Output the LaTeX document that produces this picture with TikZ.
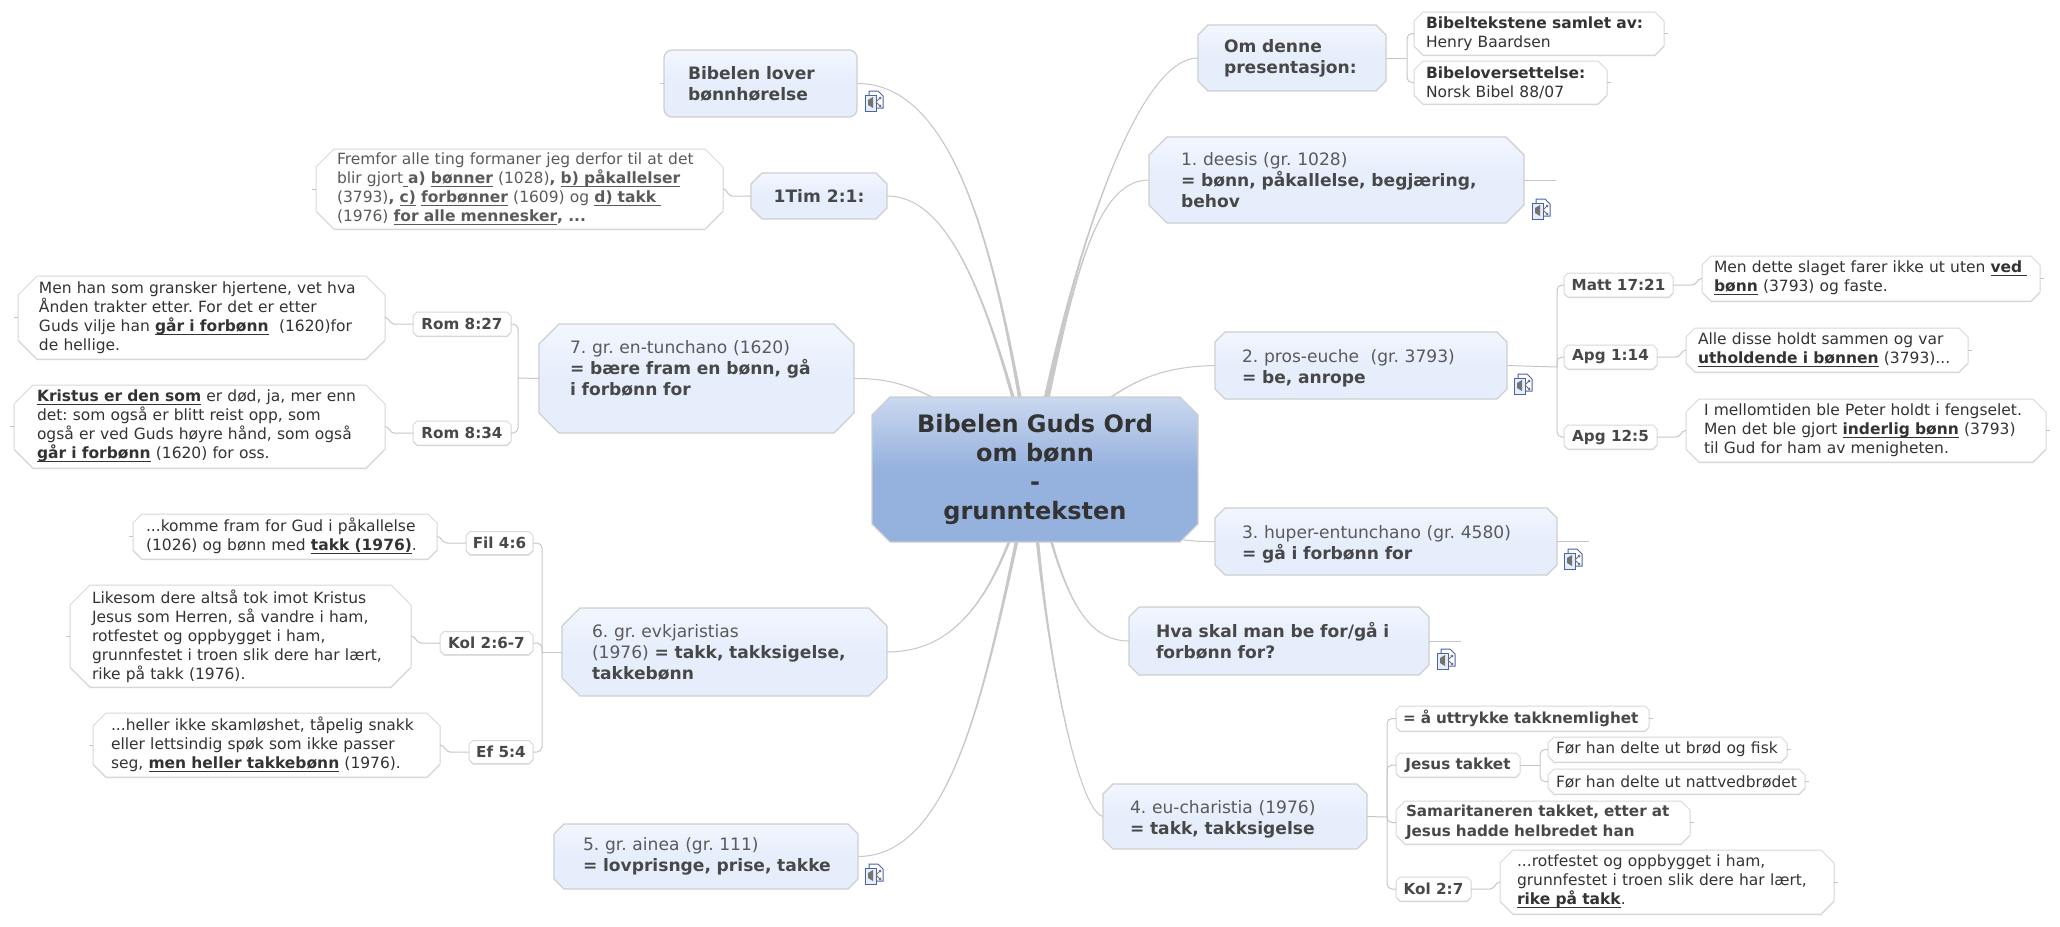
\documentclass[tikz,border=0pt]{standalone}
\usepackage{fontspec}
\setmainfont{DejaVu Sans}
\usepackage{xcolor}
\usetikzlibrary{shadows,backgrounds}
\frenchspacing
\definecolor{hubtop}{HTML}{CAD8EF}
\definecolor{hubmid}{HTML}{95B1DD}
\definecolor{topictop}{HTML}{F2F6FE}
\definecolor{topicmid}{HTML}{E6EEFC}
\definecolor{rimgray}{HTML}{CCCED2}
\definecolor{twiggray}{HTML}{C6C6C6}
\definecolor{boughgray}{HTML}{C8C8C8}
\definecolor{inkdark}{HTML}{333333}
\definecolor{inkmid}{HTML}{484848}
\definecolor{inkpale}{HTML}{5A5A5A}
\definecolor{iconblue}{HTML}{4A62B0}
\pgfdeclareverticalshading{hubshade}{100bp}{color(0bp)=(hubmid);color(50bp)=(hubmid);color(75bp)=(hubtop);color(100bp)=(hubtop)}
\newcommand{\bu}[1]{\textbf{\underline{\smash{#1}}}}
\newcommand{\reg}[1]{{\mdseries\color{inkpale}#1}}
% tapered branch, thin at the topic and wider at the hub
\newcommand{\bough}[3]{\filldraw[bough] (#1) .. controls (#2) and (#3) .. ([xshift=-1pt]hub) -- ([xshift=1pt]hub) .. controls (#3) and (#2) .. (#1) -- cycle;}
% box with cut corners, exact size
\tikzset{octacut/.initial=5pt}
\newdimen\octaL \newdimen\octaR \newdimen\octaT \newdimen\octaB \newdimen\octaC
\makeatletter
\pgfdeclareshape{octa}{
  \inheritsavedanchors[from=rectangle]
  \inheritanchorborder[from=rectangle]
  \inheritanchor[from=rectangle]{center}
  \inheritanchor[from=rectangle]{north}
  \inheritanchor[from=rectangle]{south}
  \inheritanchor[from=rectangle]{east}
  \inheritanchor[from=rectangle]{west}
  \backgroundpath{
    \southwest \octaL=\pgf@x \octaB=\pgf@y
    \northeast \octaR=\pgf@x \octaT=\pgf@y
    \pgfmathsetlength\octaC{\pgfkeysvalueof{/tikz/octacut}}
    \pgfpathmoveto{\pgfpoint{\octaL+\octaC}{\octaT}}
    \pgfpathlineto{\pgfpoint{\octaR-\octaC}{\octaT}}
    \pgfpathlineto{\pgfpoint{\octaR}{\octaT-\octaC}}
    \pgfpathlineto{\pgfpoint{\octaR}{\octaB+\octaC}}
    \pgfpathlineto{\pgfpoint{\octaR-\octaC}{\octaB}}
    \pgfpathlineto{\pgfpoint{\octaL+\octaC}{\octaB}}
    \pgfpathlineto{\pgfpoint{\octaL}{\octaB+\octaC}}
    \pgfpathlineto{\pgfpoint{\octaL}{\octaT-\octaC}}
    \pgfpathclose
  }
}
\makeatother

\begin{document}
\begin{tikzpicture}[x=0.5pt, y=-0.5pt, inner sep=0pt, outer sep=0pt,
  sz/.style 2 args={minimum width=#1*0.5pt, minimum height=#2*0.5pt},
  pad/.style n args={3}{sz={#1}{#2}, text width=(#1-2*#3)*0.5pt, align=left},
  cham/.style={shape=octa, octacut=#1*0.5pt},
  low/.style={text height=9pt},
  topic/.style={draw=rimgray, line width=0.6pt, top color=topictop, bottom color=topicmid, middle color=topicmid,
    text=inkmid, font=\fontsize{8.55}{10.5}\selectfont\bfseries, cham=10},
  leaf/.style={draw=rimgray!80, line width=0.5pt, fill=white, text=inkdark, font=\fontsize{7.75}{9.5}\selectfont, cham=9,
    drop shadow={shadow xshift=0pt, shadow yshift=-0.5pt, fill=black!18, opacity=1}},
  tag/.style={leaf, text=inkmid, font=\fontsize{7.6}{10}\selectfont\bfseries, cham=4, align=center},
  twig/.style={draw=twiggray, line width=0.5pt},
  bracket/.style={twig, rounded corners=2.5pt},
  bough/.style={fill=boughgray, draw=boughgray, line width=0.5pt},
  mapicon/.pic={
    \draw[iconblue, line width=0.5pt, fill=white] (5,0) -- (14,0) -- (19,5) -- (19,17) -- (5,17) -- cycle;
    \draw[iconblue, line width=0.5pt, fill=topicmid] (1,4) rectangle (12,20);
    \fill[black!55] (4,9) -- (9,6) -- (9,17) -- (4,14) -- cycle;
    \draw[black!55, line width=0.5pt] (12,11) -- (16,7) (12,11) -- (16,15);
    \fill[black!55] (16,7) circle (1.5) (16,15) circle (1.5);
  }]
\useasboundingbox (0,0) rectangle (2060,926);
% root
\node[draw=rimgray, line width=0.6pt, shading=hubshade, cham=18, sz={326}{145}, align=center, text=inkdark,
  font=\fontsize{12}{14.5}\selectfont\bfseries] (root) at (1035,469.5) {Bibelen Guds Ord\\om bønn\\-\\grunnteksten};
\coordinate (hub) at (1032,470);
% topics
\node[topic, rectangle, rounded corners=4pt, pad={193}{67}{24}] (lover) at (760.5,83.5) {Bibelen lover\\bønnhørelse};
\node[topic, sz={136}{46}, cham=11, align=center] (tim) at (819,196) {1Tim 2:1:};
\node[topic, pad={188}{66}{26}] (om) at (1292,58) {Om denne\\presentasjon:};
\node[topic, pad={375}{86}{32}, cham=18] (deesis) at (1336.5,180) {\reg{1. deesis (gr. 1028)}\\= bønn, påkallelse, begjæring,\\behov};
\node[topic, pad={292}{67}{27}, low] (pros) at (1361,365.5) {\reg{2. pros-euche\ \ (gr. 3793)}\\= be, anrope};
\node[topic, pad={342}{67}{27}, low] (huper) at (1386,541.5) {\reg{3. huper-entunchano (gr. 4580)}\\= gå i forbønn for};
\node[topic, pad={300}{68}{27}] (hva) at (1279,641) {Hva skal man be for/gå i\\forbønn for?};
\node[topic, pad={264}{65}{27}, low] (eucha) at (1235,816.5) {\reg{4. eu-charistia (1976)}\\= takk, takksigelse};
\node[topic, pad={315}{109}{31}, cham=20] (tunch) at (696.5,378.5) {\reg{7. gr. en-tunchano (1620)}\\= bære fram en bønn, gå\\i forbønn for\\~};
\node[topic, pad={325}{88}{30}, cham=18] (evk) at (724.5,652) {\reg{6. gr. evkjaristias}\\\reg{(1976)} = takk, takksigelse,\\takkebønn};
\node[topic, pad={304}{65}{29}] (ainea) at (706,856.5) {\reg{5. gr. ainea (gr. 111)}\\\mbox{= lovprisnge, prise, takke}};
% verse tags
\node[tag, sz={109}{24}] (matt) at (1618.5,285) {Matt 17:21};
\node[tag, sz={93}{24}] (apga) at (1610.5,357) {Apg 1:14};
\node[tag, sz={93}{24}] (apgb) at (1610.5,437) {Apg 12:5};
\node[tag, sz={98}{24}] (roma) at (462,324) {Rom 8:27};
\node[tag, sz={98}{24}] (romb) at (462,433) {Rom 8:34};
\node[tag, sz={67}{23}] (fil) at (499.5,543) {Fil 4:6};
\node[tag, sz={93}{23}] (kola) at (486.5,643) {Kol 2:6-7};
\node[tag, sz={64}{23}] (ef) at (501,752) {Ef 5:4};
\node[tag, sz={124}{24}] (jesus) at (1458,765) {Jesus takket};
\node[tag, sz={75}{24}] (kolb) at (1433.5,889) {Kol 2:7};
\node[tag, pad={253}{25}{7}] (uttr) at (1522.5,718.5) {= å uttrykke takknemlighet};
\node[tag, pad={294}{43}{10}, cham=9] (sama) at (1543,822.5) {Samaritaneren takket, etter at\\Jesus hadde helbredet han};
% verse texts
\node[leaf, pad={250}{43}{12}] (samlet) at (1539,33.5) {\textbf{Bibeltekstene samlet av:}\\Henry Baardsen};
\node[leaf, pad={193}{43}{12}] (overs) at (1510.5,82.5) {\textbf{Bibeloversettelse:}\\Norsk Bibel 88/07};
\node[leaf, pad={407}{80}{21}, cham=18, text=inkpale] (timl) at (519.5,189) {Fremfor alle ting formaner jeg derfor til at det\\blir gjort\underline{\ }\textbf{a)} \bu{bønner} (1028)\textbf{,} \bu{b) påkallelser}\\(3793)\textbf{,} \bu{c)} \bu{forbønner} (1609) og \bu{d) takk\ }\\(1976) \bu{for alle mennesker}\textbf{, ...}};
\node[leaf, pad={367}{83}{21}, cham=19] (romal) at (201.5,317.5) {Men han som gransker hjertene, vet hva\\Ånden trakter etter. For det er etter\\Guds vilje han \bu{går i forbønn}\ \ (1620)for\\de hellige.};
\node[leaf, pad={371}{83}{23}, cham=19] (rombl) at (199.5,426.5) {\bu{Kristus er den som} er død, ja, mer enn\\det: som også er blitt reist opp, som\\også er ved Guds høyre hånd, som også\\\bu{går i forbønn} (1620) for oss.};
\node[leaf, pad={304}{45}{13}] (fill) at (285,536.5) {...komme fram for Gud i påkallelse\\(1026) og bønn med \bu{takk (1976)}.};
\node[leaf, pad={341}{102}{22}, cham=20] (kolal) at (240.5,636) {Likesom dere altså tok imot Kristus\\Jesus som Herren, så vandre i ham,\\rotfestet og oppbygget i ham,\\grunnfestet i troen slik dere har lært,\\rike på takk (1976).};
\node[leaf, pad={347}{64}{18}, cham=13] (efl) at (266.5,745) {...heller ikke skamløshet, tåpelig snakk\\eller lettsindig spøk som ikke passer\\seg, \bu{men heller takkebønn} (1976).};
\node[leaf, pad={338}{45}{12}] (mattl) at (1871,278.5) {Men dette slaget farer ikke ut uten \bu{ved\ }\\\bu{bønn} (3793) og faste.};
\node[leaf, pad={282}{44}{12}] (apgal) at (1827,350) {Alle disse holdt sammen og var\\\bu{utholdende i bønnen} (3793)...};
\node[leaf, pad={360}{63}{18}, cham=13] (apgbl) at (1866,430.5) {I mellomtiden ble Peter holdt i fengselet.\\Men det ble gjort \bu{inderlig bønn} (3793)\\til Gud for ham av menigheten.};
\node[leaf, pad={239}{25}{8}, cham=6] (brod) at (1667.5,749.5) {Før han delte ut brød og fisk};
\node[leaf, pad={257}{25}{8}, cham=6] (natt) at (1676.5,781.5) {Før han delte ut nattvedbrødet};
\node[leaf, pad={334}{64}{17}, cham=13] (kolbl) at (1667,882) {...rotfestet og oppbygget i ham,\\grunnfestet i troen slik dere har lært,\\\bu{rike på takk}.};
% branches behind the nodes
\begin{scope}[on background layer]
\bough{lover.east}{960,83}{1000,270}
\bough{tim.east}{950,196}{990,300}
\bough{om.west}{1130,58}{1060,300}
\bough{deesis.west}{1090,180}{1070,300}
\bough{pros.west}{1150,367}{1110,385}
\bough{tunch.east}{900,378}{940,390}
\bough{huper.west}{1190,542}{1120,540}
\bough{hva.west}{1075,641}{1058,570}
\bough{eucha.west}{1075,810}{1040,620}
\bough{ainea.east}{960,856}{990,660}
\bough{evk.east}{960,652}{1000,590}
\end{scope}
% brackets
\coordinate (omb) at (1407,58);
\coordinate (prosb) at (1557,367);
\coordinate (tunchb) at (518,378);
\coordinate (evkb) at (542,652);
\coordinate (euchab) at (1387,817);
\coordinate (jesusb) at (1540,765);
\draw[twig] (om.east) -- (omb);
\draw[twig] (pros.east) -- (prosb);
\draw[twig] (tunch.west) -- (tunchb);
\draw[twig] (evk.west) -- (evkb);
\draw[twig] (eucha.east) -- (euchab);
\draw[twig] (jesus.east) -- (jesusb);
\foreach \a in {samlet,overs} \draw[bracket] (\a.west) -| (omb);
\foreach \a in {matt,apga,apgb} \draw[bracket] (\a.west) -| (prosb);
\foreach \a in {roma,romb} \draw[bracket] (\a.east) -| (tunchb);
\foreach \a in {fil,kola,ef} \draw[bracket] (\a.east) -| (evkb);
\foreach \a in {uttr,jesus,sama,kolb} \draw[bracket] (\a.west) -| (euchab);
\foreach \a in {brod,natt} \draw[bracket] (\a.west) -| (jesusb);
% verse to text
\foreach \a/\b in {matt/mattl,apga/apgal,apgb/apgbl,kolb/kolbl}
  \draw[twig] (\a.east) -- ++(19,0) to[out=0, in=180] (\b.west);
\foreach \a/\b in {tim/timl,roma/romal,romb/rombl,fil/fill,kola/kolal,ef/efl}
  \draw[twig] (\a.west) -- ++(-19,0) to[out=180, in=0] (\b.east);
% stubs
\foreach \a in {timl,romal,rombl,fill,kolal,efl,lover} \draw[twig] (\a.west) -- ++(-4,0);
\foreach \a in {samlet,overs,mattl,apgal,apgbl,uttr,sama,brod,natt,kolbl} \draw[twig] (\a.east) -- ++(4,0);
\foreach \a in {deesis,huper,hva} \draw[twig] (\a.east) -- ++(32,0);
% map links
\path (864,91) pic {mapicon} (1531,199) pic {mapicon} (1513,374) pic {mapicon}
  (1563,549) pic {mapicon} (1436,649) pic {mapicon} (864,864) pic {mapicon};
\end{tikzpicture}
\end{document}
